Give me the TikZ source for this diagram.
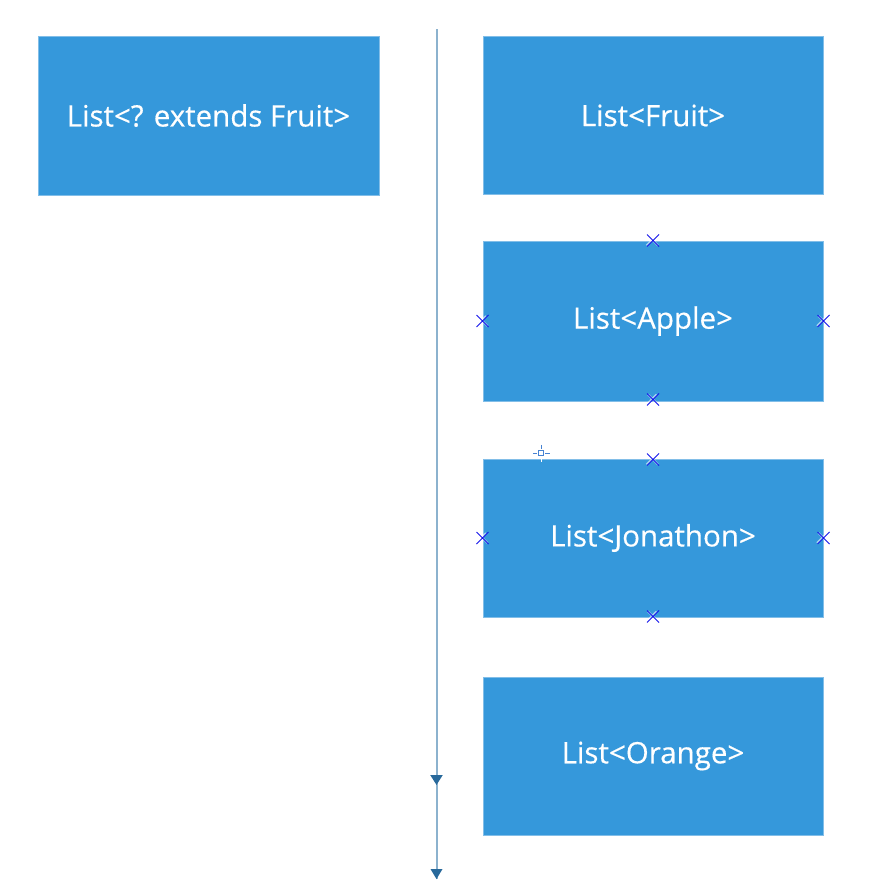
\documentclass[tikz,border=0pt]{standalone}
\usepackage{fontspec}
\setmainfont{Open Sans}[FakeBold=0.4]
\usetikzlibrary{arrows.meta,decorations.markings,calc}
\definecolor{boxblue}{RGB}{53,152,219}
\definecolor{boxedge}{RGB}{130,190,232}
\definecolor{linecol}{RGB}{140,178,206}
\definecolor{tipcol}{RGB}{40,105,155}
\definecolor{markblue}{RGB}{20,20,235}
\definecolor{cursorcol}{RGB}{70,130,210}
\newcommand{\boxtext}[1]{\raisebox{-3pt}{#1}}
\tikzset{
  listbox/.style={draw=boxedge, line width=1pt, fill=boxblue, text=white,
    minimum width=340pt, minimum height=158pt, inner sep=0pt,
    font=\fontsize{29.5}{34}\selectfont},
  xmark/.style={draw=markblue, line width=0.9pt},
  xshadow/.style={draw=white, opacity=0.55, line width=1.8pt},
}
\newcommand{\xmk}[1]{%
  \draw[xshadow] ($#1+(-6.5,5)$) -- ++(10,-10) ($#1+(-5,-5)$) -- ++(10,10);
  \draw[xmark] ($#1+(-6,-6)$) -- ++(12,12) ($#1+(-6,6)$) -- ++(12,-12);}
\begin{document}
\begin{tikzpicture}[x=1pt,y=-1pt]
\useasboundingbox (0,0) rectangle (868,894);
\node[listbox, minimum width=341pt, minimum height=159pt] (ext) at (208.5,115.5) {\boxtext{List<? extends Fruit>}};
\node[listbox] (fruit) at (653,115.5) {\boxtext{List<Fruit>}};
\node[listbox, minimum height=160pt] (apple) at (653,321) {\boxtext{List<Apple>}};
\node[listbox] (jon) at (653,538) {\boxtext{List<Jonathon>}};
\node[listbox] (orange) at (653,756) {\boxtext{List<Orange>}};
% vertical arrow
\coordinate (top) at (436.5,29);
\coordinate (bot) at (436.5,879);
\draw[linecol, line width=2pt,
  postaction={decorate, decoration={markings,
    mark=at position 0.8894 with {\arrow[tipcol]{Triangle[width=12pt,length=10pt]}}}}]
  (top) -- (bot);
\fill[tipcol] (bot) -- ++(-6,-10) -- ++(12,0) -- cycle;
% connection markers
\xmk{(apple.north)}
\xmk{(apple.west)}
\xmk{(apple.east)}
\xmk{($(apple.south)+(0,-2)$)}
\xmk{($(jon.north)+(0,1)$)}
\xmk{(jon.west)}
\xmk{(jon.east)}
\xmk{($(jon.south)+(0,-1)$)}
% cursor
\coordinate (cur) at (541.3,453.3);
\draw[cursorcol, line width=1pt] ($(cur)+(-2.5,-2.5)$) rectangle ($(cur)+(2.5,2.5)$);
\draw[cursorcol, line width=1pt] ($(cur)+(-8.5,0)$) -- ($(cur)+(-4,0)$) ($(cur)+(4,0)$) -- ($(cur)+(8.5,0)$)
  ($(cur)+(0,-8.5)$) -- ($(cur)+(0,-4)$);
\draw[white, line width=1pt] ($(cur)+(0,4)$) -- ($(cur)+(0,8.5)$);
\end{tikzpicture}
\end{document}
